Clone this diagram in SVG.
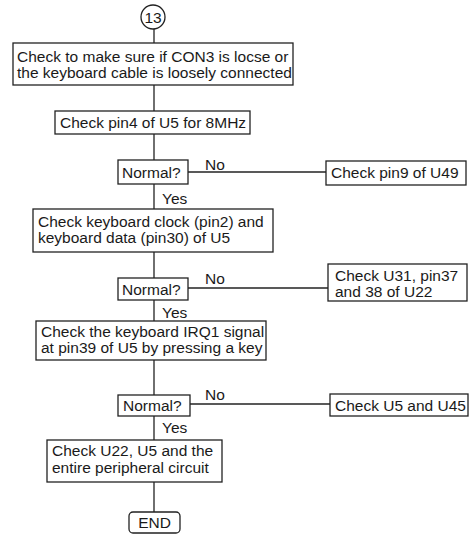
<svg xmlns="http://www.w3.org/2000/svg" width="470" height="534" viewBox="0 0 470 534">
<style>
.b{fill:#fff;stroke:#222;stroke-width:1.3}
.t{font-family:"Liberation Sans",Arial,sans-serif;font-size:15.5px;fill:#1a1a1a}
.c{stroke:#222;stroke-width:1.3;fill:none}
</style>
<rect width="470" height="534" fill="#fff"/>
<g id="connectors">
<line class="c" x1="154" y1="29" x2="154" y2="512"/>
<line class="c" x1="188" y1="172" x2="326" y2="172"/>
<line class="c" x1="188" y1="288" x2="328" y2="288"/>
<line class="c" x1="190" y1="404" x2="330" y2="404"/>
<text class="t" x="205" y="170">No</text>
<text class="t" x="205" y="284">No</text>
<text class="t" x="205" y="400">No</text>
<text class="t" x="162" y="204">Yes</text>
<text class="t" x="162" y="318">Yes</text>
<text class="t" x="162" y="433">Yes</text>
</g>
<g id="start">
<circle class="b" cx="153" cy="17" r="12"/>
<text class="t" x="153" y="23" text-anchor="middle">13</text>
</g>
<g id="n1">
<rect class="b" x="13" y="43" width="280" height="42"/>
<text class="t" x="17" y="62">Check to make sure if CON3 is locse or</text>
<text class="t" x="17" y="78">the keyboard cable is loosely connected</text>
</g>
<g id="n2">
<rect class="b" x="55" y="111" width="195" height="23"/>
<text class="t" x="60" y="128">Check pin4 of U5 for 8MHz</text>
</g>
<g id="d1">
<rect class="b" x="118" y="160" width="70" height="24"/>
<text class="t" x="122" y="178">Normal?</text>
</g>
<g id="r1">
<rect class="b" x="326" y="161" width="140" height="24"/>
<text class="t" x="331" y="178">Check pin9 of U49</text>
</g>
<g id="n3">
<rect class="b" x="33" y="209" width="240" height="43"/>
<text class="t" x="38" y="227">Check keyboard clock (pin2) and</text>
<text class="t" x="38" y="243">keyboard data (pin30) of U5</text>
</g>
<g id="d2">
<rect class="b" x="118" y="278" width="70" height="22"/>
<text class="t" x="122" y="295">Normal?</text>
</g>
<g id="r2">
<rect class="b" x="328" y="264" width="139" height="37"/>
<text class="t" x="335" y="281">Check U31, pin37</text>
<text class="t" x="335" y="297">and 38 of U22</text>
</g>
<g id="n4">
<rect class="b" x="36" y="321" width="230" height="39"/>
<text class="t" x="41" y="337">Check the keyboard IRQ1 signal</text>
<text class="t" x="41" y="353">at pin39 of U5 by pressing a key</text>
</g>
<g id="d3">
<rect class="b" x="118" y="395" width="72" height="21"/>
<text class="t" x="123" y="411">Normal?</text>
</g>
<g id="r3">
<rect class="b" x="330" y="394" width="138" height="22"/>
<text class="t" x="335" y="411">Check U5 and U45</text>
</g>
<g id="n5">
<rect class="b" x="47" y="440" width="175" height="42"/>
<text class="t" x="52" y="456">Check U22, U5 and the</text>
<text class="t" x="52" y="473">entire peripheral circuit</text>
</g>
<g id="end">
<rect class="b" x="129" y="512" width="51" height="21" rx="4"/>
<text class="t" x="154.5" y="528" text-anchor="middle">END</text>
</g>
</svg>
